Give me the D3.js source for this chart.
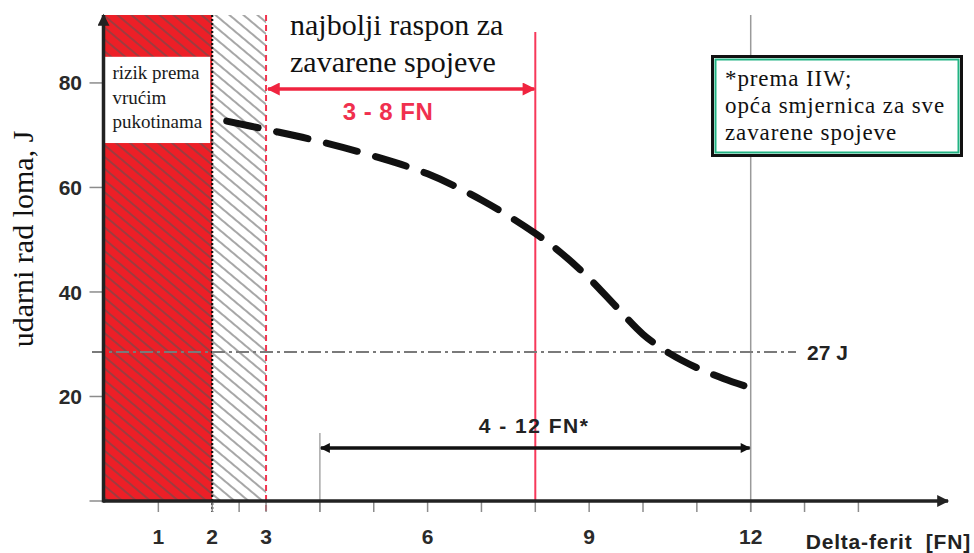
<!DOCTYPE html>
<html>
<head>
<meta charset="utf-8">
<script src="https://cdn.jsdelivr.net/npm/d3@7"></script>
<style>
  html, body { margin: 0; padding: 0; background: #fff; }
  svg { display: block; }
  .serif { font-family: 'Liberation Serif', 'Times New Roman', Times, serif; }
  .sans { font-family: 'Liberation Sans', Arial, Helvetica, sans-serif; font-weight: bold; }
</style>
</head>
<body>
<svg id="chart" width="974" height="553"></svg>
<script>
// ---------- data ----------
const curveFN = [2.27, 3, 4, 5, 6, 7, 8, 8.5, 9, 9.5, 10, 10.5, 11, 11.5, 12.1];
const curveJ  = [72.7, 71.1, 68.8, 66.0, 62.6, 57.6, 51.2, 47.3, 42.6, 37.2, 31.9, 28.2, 25.5, 23.4, 21.3];
const xTickLabels = [1, 2, 3, 6, 9, 12];
const xTickMarks = [1, 2, 2.5, 3, 4, 5, 6, 7, 8, 9, 10, 11, 12, 13, 14];
const yTickMarks = [0, 20, 40, 60, 80];
const yTickLabels = [20, 40, 60, 80];
const hotCrackFN = 2;          // red risk zone 0-2 FN
const transitionFN = [2, 3];   // hatched zone
const bestRange = [3, 8];      // "3 - 8 FN"
const iiwRange = [4, 12];      // "4 - 12 FN*"
const refJ = 28.5;             // line labelled "27 J"
const refLabel = "27 J";
const titleLines = ["najbolji raspon za", "zavarene spojeve"];
const riskLines = ["rizik prema", "vrućim", "pukotinama"];
const noteLines = ["*prema IIW;", "opća smjernica za sve", "zavarene spojeve"];
const yLabel = "udarni rad loma, J";
const xLabel = "Delta-ferit  [FN]";

// ---------- scales ----------
const svg = d3.select("#chart");
const x = d3.scaleLinear().domain([0, 14]).range([104.5, 104.5 + 14 * 53.85]);
const y = d3.scaleLinear().domain([0, 93]).range([501, 15]);
const yTop = 93;

const defs = svg.append("defs");
const hatch = defs.append("pattern")
  .attr("id", "hatch").attr("patternUnits", "userSpaceOnUse")
  .attr("width", 9).attr("height", 20)
  .attr("patternTransform", "rotate(-50)");
hatch.append("line").attr("x1", 1).attr("x2", 1).attr("y1", -2).attr("y2", 22)
  .attr("stroke", "#555").attr("stroke-width", 1.3).attr("stroke-opacity", 0.8);

function marker(id, color, w, h) {
  const m = defs.append("marker").attr("id", id)
    .attr("viewBox", "0 0 10 10").attr("refX", 9).attr("refY", 5)
    .attr("markerUnits", "userSpaceOnUse")
    .attr("markerWidth", w).attr("markerHeight", h)
    .attr("orient", "auto-start-reverse");
  m.append("path").attr("d", "M0,0 L10,5 L0,10 Z").attr("fill", color);
}
marker("arrRed", "#f0243f", 15, 13);
marker("arrBlk", "#111", 13, 10);
marker("arrAxis", "#222", 15, 12);

// ---------- zones ----------
svg.append("rect")
  .attr("x", x(0)).attr("y", y(yTop))
  .attr("width", x(hotCrackFN) - x(0)).attr("height", y(0) - y(yTop))
  .attr("fill", "#ed1f27");
svg.append("rect")
  .attr("x", x(0)).attr("y", y(yTop))
  .attr("width", x(transitionFN[1]) - x(0)).attr("height", y(0) - y(yTop))
  .attr("fill", "url(#hatch)");

// white label box in the red zone
svg.append("rect")
  .attr("x", x(0)).attr("y", y(85))
  .attr("width", x(hotCrackFN) - x(0) - 2).attr("height", y(68.5) - y(85))
  .attr("fill", "#fff");
svg.append("g").selectAll("text").data(riskLines).join("text")
  .attr("class", "serif")
  .attr("x", x(0) + 8).attr("y", (d, i) => 79 + i * 24.5)
  .attr("font-size", 19).attr("fill", "#1a1a1a")
  .text(d => d);

// dotted black boundary at 2 FN
svg.append("line")
  .attr("x1", x(hotCrackFN)).attr("x2", x(hotCrackFN))
  .attr("y1", y(yTop)).attr("y2", y(0) + 11)
  .attr("stroke", "#111").attr("stroke-width", 2.2).attr("stroke-dasharray", "2,2");

// red dashed at 3 FN
svg.append("line")
  .attr("x1", x(bestRange[0])).attr("x2", x(bestRange[0]))
  .attr("y1", y(yTop)).attr("y2", y(0) + 11)
  .attr("stroke", "#f2344f").attr("stroke-width", 2).attr("stroke-dasharray", "6,4");

// red solid at 8 FN
svg.append("line")
  .attr("x1", x(bestRange[1])).attr("x2", x(bestRange[1]))
  .attr("y1", 32).attr("y2", y(0))
  .attr("stroke", "#f7385a").attr("stroke-width", 2);

// grey line at 12 FN
svg.append("line")
  .attr("x1", x(iiwRange[1])).attr("x2", x(iiwRange[1]))
  .attr("y1", y(yTop)).attr("y2", y(0) + 11)
  .attr("stroke", "#9a9a9a").attr("stroke-width", 1.5);

// grey line at 4 FN (short)
svg.append("line")
  .attr("x1", x(iiwRange[0])).attr("x2", x(iiwRange[0]))
  .attr("y1", 433).attr("y2", y(0) + 11)
  .attr("stroke", "#9a9a9a").attr("stroke-width", 1.3);

// 27 J reference line
svg.append("line")
  .attr("x1", 92).attr("x2", 796)
  .attr("y1", y(refJ)).attr("y2", y(refJ))
  .attr("stroke", "#7a7a7a").attr("stroke-width", 2)
  .attr("stroke-dasharray", "13,4,3,4");
svg.append("text")
  .attr("class", "sans")
  .attr("x", 807).attr("y", y(refJ)).attr("dy", "0.36em")
  .attr("font-size", 21).attr("fill", "#222")
  .text(refLabel);

// ---------- axes ----------
svg.append("g").selectAll("line").data(xTickMarks).join("line")
  .attr("x1", d => x(d)).attr("x2", d => x(d))
  .attr("y1", y(0)).attr("y2", y(0) + 11)
  .attr("stroke", "#8c8c8c").attr("stroke-width", 1.5);
svg.append("g").selectAll("line").data(yTickMarks).join("line")
  .attr("x1", x(0) - 15).attr("x2", x(0))
  .attr("y1", d => y(d)).attr("y2", d => y(d))
  .attr("stroke", "#8c8c8c").attr("stroke-width", 1.5);

svg.append("line")
  .attr("x1", x(0) - 1.5).attr("x2", 948)
  .attr("y1", y(0)).attr("y2", y(0))
  .attr("stroke", "#222").attr("stroke-width", 3.5)
  .attr("marker-end", "url(#arrAxis)");
svg.append("line")
  .attr("x1", x(0) - 1).attr("x2", x(0) - 1)
  .attr("y1", y(0) + 1.5).attr("y2", y(yTop))
  .attr("stroke", "#222").attr("stroke-width", 3.5)
  .attr("marker-end", "url(#arrAxis)");

svg.append("g").selectAll("text").data(xTickLabels).join("text")
  .attr("class", "sans")
  .attr("x", d => x(d)).attr("y", 544)
  .attr("text-anchor", "middle")
  .attr("font-size", 21).attr("fill", "#2a2a2a")
  .text(d => d);
svg.append("g").selectAll("text").data(yTickLabels).join("text")
  .attr("class", "sans")
  .attr("x", 82).attr("y", d => y(d)).attr("dy", "0.36em")
  .attr("text-anchor", "end")
  .attr("font-size", 21).attr("fill", "#2a2a2a")
  .text(d => d);

svg.append("text")
  .attr("class", "serif")
  .attr("transform", "translate(33,239) rotate(-90)")
  .attr("text-anchor", "middle")
  .attr("font-size", 30).attr("fill", "#111")
  .text(yLabel);
svg.append("text")
  .attr("class", "sans")
  .attr("x", 971).attr("y", 549).attr("text-anchor", "end")
  .attr("font-size", 21).attr("fill", "#222")
  .attr("letter-spacing", 0.8)
  .style("white-space", "pre")
  .text(xLabel);

// ---------- best range ----------
svg.append("g").selectAll("text").data(titleLines).join("text")
  .attr("class", "serif")
  .attr("x", 290).attr("y", (d, i) => 35 + i * 37)
  .attr("font-size", 30).attr("fill", "#111")
  .text(d => d);
svg.append("line")
  .attr("x1", x(bestRange[0]) + 2).attr("x2", x(bestRange[1]) - 1)
  .attr("y1", 89).attr("y2", 89)
  .attr("stroke", "#f0243f").attr("stroke-width", 3.5)
  .attr("marker-start", "url(#arrRed)").attr("marker-end", "url(#arrRed)");
svg.append("text")
  .attr("class", "sans")
  .attr("x", 388).attr("y", 120).attr("text-anchor", "middle")
  .attr("font-size", 24).attr("fill", "#f0304e")
  .attr("letter-spacing", 0.5)
  .text(bestRange[0] + " - " + bestRange[1] + " FN");

// ---------- IIW range ----------
svg.append("line")
  .attr("x1", x(iiwRange[0]) + 1).attr("x2", x(iiwRange[1]) - 1)
  .attr("y1", 448).attr("y2", 448)
  .attr("stroke", "#111").attr("stroke-width", 3.5)
  .attr("marker-start", "url(#arrBlk)").attr("marker-end", "url(#arrBlk)");
svg.append("text")
  .attr("class", "sans")
  .attr("x", 534).attr("y", 433).attr("text-anchor", "middle")
  .attr("font-size", 21).attr("fill", "#222")
  .attr("letter-spacing", 1.5)
  .text(iiwRange[0] + " - " + iiwRange[1] + " FN*");

// ---------- note box ----------
svg.append("rect")
  .attr("x", 712.5).attr("y", 56.5).attr("width", 249).attr("height", 99)
  .attr("fill", "#fff").attr("stroke", "#111").attr("stroke-width", 3);
svg.append("rect")
  .attr("x", 715.5).attr("y", 59.5).attr("width", 243).attr("height", 93)
  .attr("fill", "none").attr("stroke", "#22b383").attr("stroke-width", 2);
svg.append("g").selectAll("text").data(noteLines).join("text")
  .attr("class", "serif")
  .attr("x", 725).attr("y", (d, i) => 86 + i * 27)
  .attr("font-size", 23).attr("fill", "#111")
  .attr("letter-spacing", 0.9)
  .text(d => d);

// ---------- curve ----------
const pts = curveFN.map((v, i) => [v, curveJ[i]]);
const line = d3.line().x(d => x(d[0])).y(d => y(d[1])).curve(d3.curveCatmullRom.alpha(0.5));
svg.append("path")
  .datum(pts)
  .attr("d", line)
  .attr("fill", "none").attr("stroke", "#111")
  .attr("stroke-width", 7).attr("stroke-linecap", "round")
  .attr("stroke-dasharray", "32,19");
</script>
</body>
</html>
